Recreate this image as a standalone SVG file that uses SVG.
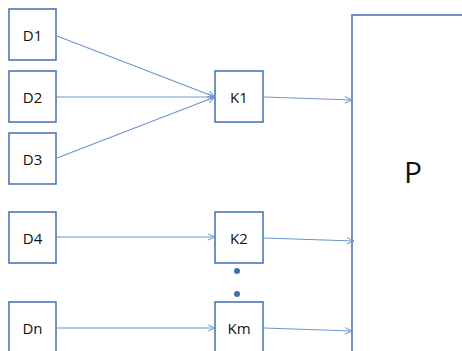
<svg xmlns="http://www.w3.org/2000/svg" width="462" height="351" viewBox="0 0 462 351">
<defs>
<style>
.box{fill:#fff;stroke:#3f6fae;stroke-width:1.5}
.lbl{font-family:"Open Sans","Liberation Sans",sans-serif;font-size:15px;fill:#111;text-anchor:middle;dominant-baseline:central}
.c{stroke:#6a95cf;stroke-width:1.2;fill:none;marker-end:url(#ah)}
</style>
<marker id="ah" viewBox="0 0 10 10" refX="10" refY="5" markerWidth="8" markerHeight="8" markerUnits="userSpaceOnUse" orient="auto">
<path d="M1,1 L10,5 L1,9" fill="none" stroke="#6a95cf" stroke-width="1.2"/>
</marker>
</defs>
<rect width="462" height="351" fill="#fff"/>
<g id="P"><rect class="box" x="352" y="15" width="120" height="350"/><text x="413" y="171" style="font-family:'Open Sans','Liberation Sans',sans-serif;font-size:30px;fill:#111;text-anchor:middle;dominant-baseline:central">P</text></g>
<g id="D1"><rect class="box" x="9" y="9" width="47" height="51"/><text class="lbl" x="32.5" y="34.5">D1</text></g>
<g id="D2"><rect class="box" x="9" y="71" width="47" height="51"/><text class="lbl" x="32.5" y="96.5">D2</text></g>
<g id="D3"><rect class="box" x="9" y="133" width="47" height="51"/><text class="lbl" x="32.5" y="158.5">D3</text></g>
<g id="D4"><rect class="box" x="9" y="212" width="47" height="51"/><text class="lbl" x="32.5" y="237.5">D4</text></g>
<g id="Dn"><rect class="box" x="9" y="302" width="47" height="60"/><text class="lbl" x="32.5" y="328">Dn</text></g>
<g id="K1"><rect class="box" x="215" y="71" width="48" height="51"/><text class="lbl" x="239" y="96.5">K1</text></g>
<g id="K2"><rect class="box" x="215" y="212" width="48" height="51"/><text class="lbl" x="239" y="237.5">K2</text></g>
<g id="Km"><rect class="box" x="215" y="302" width="48" height="60"/><text class="lbl" x="239" y="328">Km</text></g>
<g id="dots" fill="#3f6fae"><circle cx="237" cy="271" r="3"/><circle cx="237" cy="294" r="3"/></g>
<g id="connectors">
<line class="c" x1="57" y1="36" x2="215" y2="97"/>
<line class="c" x1="57" y1="97" x2="215" y2="97"/>
<line class="c" x1="57" y1="158" x2="215" y2="97"/>
<line class="c" x1="57" y1="237" x2="215" y2="237"/>
<line class="c" x1="57" y1="328" x2="215" y2="328"/>
<line class="c" x1="264" y1="97" x2="352" y2="100"/>
<line class="c" x1="264" y1="238" x2="354" y2="241"/>
<line class="c" x1="264" y1="328" x2="352" y2="331"/>
</g>
</svg>
